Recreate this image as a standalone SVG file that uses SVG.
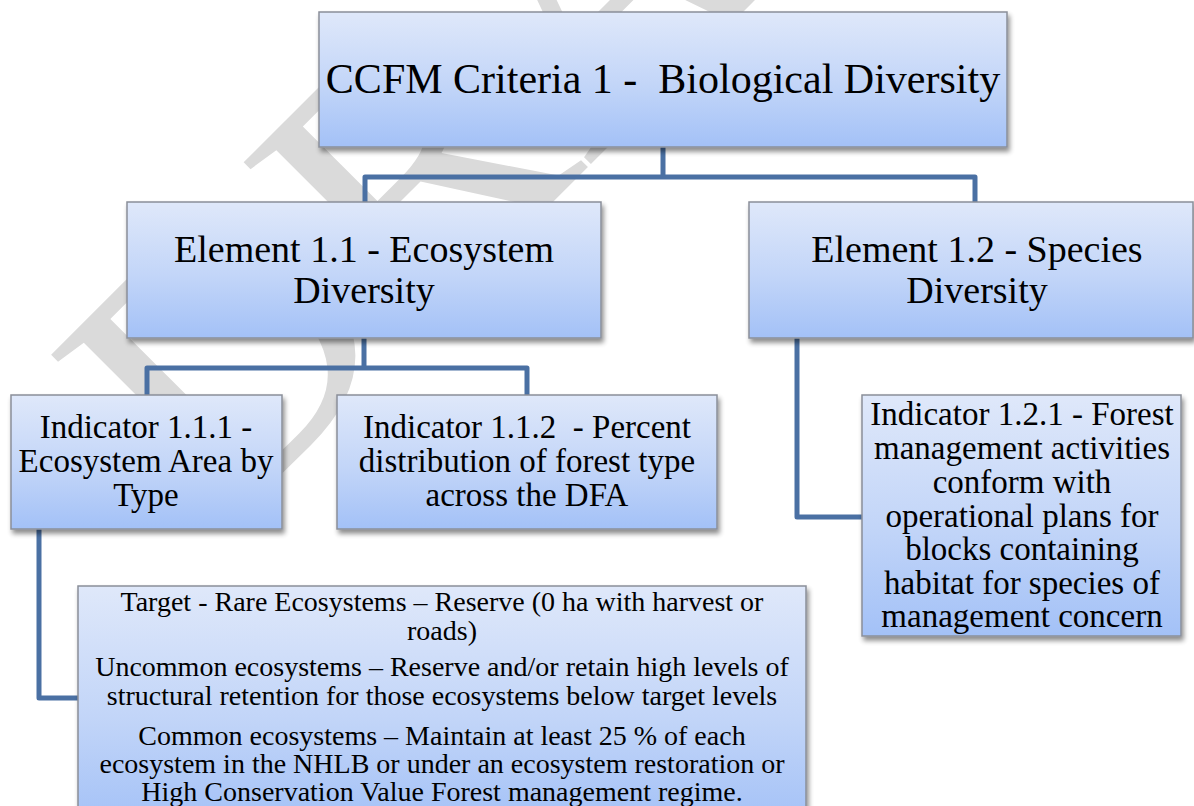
<svg xmlns="http://www.w3.org/2000/svg" width="1194" height="806" viewBox="0 0 1194 806">
<defs>
<linearGradient id="boxfill" x1="0" y1="0" x2="0" y2="1">
<stop offset="0" stop-color="#dfe8fa"/>
<stop offset="0.55" stop-color="#c2d5f8"/>
<stop offset="1" stop-color="#a3c1f7"/>
</linearGradient>
<filter id="shadow" x="-10%" y="-10%" width="130%" height="130%">
<feGaussianBlur in="SourceAlpha" stdDeviation="2.5"/>
<feOffset dx="2" dy="4" result="b"/>
<feComponentTransfer><feFuncA type="linear" slope="0.45"/></feComponentTransfer>
<feMerge><feMergeNode/><feMergeNode in="SourceGraphic"/></feMerge>
</filter>
</defs>
<style>
.box{fill:url(#boxfill);stroke:#8a8f99;stroke-width:1.5;filter:url(#shadow)}
.t{font-family:"Liberation Serif","Times New Roman",serif;fill:#000;text-anchor:middle;white-space:pre}
.conn{fill:none;stroke:#4a70a3;stroke-width:5;stroke-linejoin:round}
.wm{font-family:"Liberation Serif","Times New Roman",serif;fill:#dadada;font-size:377px}
</style>
<rect width="1194" height="806" fill="#fff"/>
<text class="wm" transform="translate(218,537) rotate(-45)">DRAFT</text>
<g id="connectors">
<path class="conn" d="M663,147 V177 M365,202 V177 H975 V202"/>
<path class="conn" d="M364,338 V368 M147,395 V368 H527 V395"/>
<path class="conn" d="M797,338 V517 H862"/>
<path class="conn" d="M39,529 V698 H78"/>
</g>
<g id="criteria1">
<rect class="box" x="319" y="12" width="688" height="135"/>
<text class="t" x="663" y="93" font-size="42">CCFM Criteria 1 -  Biological Diversity</text>
</g>
<g id="element11">
<rect class="box" x="127" y="202" width="474" height="136"/>
<text class="t" font-size="38"><tspan x="364" y="262">Element 1.1 - Ecosystem</tspan><tspan x="364" y="303">Diversity</tspan></text>
</g>
<g id="element12">
<rect class="box" x="749" y="202" width="444" height="136"/>
<text class="t" font-size="38"><tspan x="977" y="262">Element 1.2 - Species</tspan><tspan x="977" y="303">Diversity</tspan></text>
</g>
<g id="indicator111">
<rect class="box" x="11" y="395" width="271" height="134"/>
<text class="t" font-size="33"><tspan x="146" y="438">Indicator 1.1.1 -</tspan><tspan x="146" y="472">Ecosystem Area by</tspan><tspan x="146" y="506">Type</tspan></text>
</g>
<g id="indicator112">
<rect class="box" x="337" y="395" width="380" height="134"/>
<text class="t" font-size="33"><tspan x="527" y="438">Indicator 1.1.2  - Percent</tspan><tspan x="527" y="472">distribution of forest type</tspan><tspan x="527" y="506">across the DFA</tspan></text>
</g>
<g id="indicator121">
<rect class="box" x="862" y="395" width="319" height="241"/>
<text class="t" font-size="33"><tspan x="1022" y="425">Indicator 1.2.1 - Forest</tspan><tspan x="1022" y="459">management activities</tspan><tspan x="1022" y="493">conform with</tspan><tspan x="1022" y="527">operational plans for</tspan><tspan x="1022" y="560">blocks containing</tspan><tspan x="1022" y="594">habitat for species of</tspan><tspan x="1022" y="627">management concern</tspan></text>
</g>
<g id="targets">
<rect class="box" x="78" y="586" width="728" height="240"/>
<text class="t" font-size="28"><tspan x="442" y="611">Target - Rare Ecosystems – Reserve (0 ha with harvest or</tspan><tspan x="442" y="640">roads)</tspan><tspan x="442" y="676">Uncommon ecosystems – Reserve and/or retain high levels of</tspan><tspan x="442" y="705">structural retention for those ecosystems below target levels</tspan><tspan x="442" y="745">Common ecosystems – Maintain at least 25 % of each</tspan><tspan x="442" y="773">ecosystem in the NHLB or under an ecosystem restoration or</tspan><tspan x="442" y="801">High Conservation Value Forest management regime.</tspan></text>
</g>
</svg>
